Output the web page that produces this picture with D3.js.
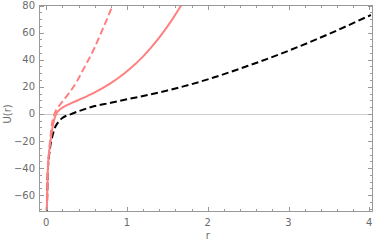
<!DOCTYPE html>
<html>
<head>
<meta charset="utf-8">
<script src="https://cdn.jsdelivr.net/npm/d3@7"></script>
<style>
  body { margin: 0; background: #fff; }
  svg { display: block; font-family: "DejaVu Sans", sans-serif; }
</style>
</head>
<body>
<svg id="chart" width="374" height="245"></svg>
<script>
// values, [r, U]
let blackDashed = [[0.008, -72], [0.02, -43], [0.035, -31], [0.05, -24], [0.08, -15.5], [0.11, -10], [0.15, -6],
    [0.2, -3], [0.3, -0.3], [0.45, 3], [0.6, 5.8], [0.8, 8.2], [1.0, 10.8], [1.3, 14.5], [1.5, 17.3],
    [1.78, 21.6], [2.0, 25.5], [2.5, 35.5], [3.0, 46.6], [3.5, 59], [4.02, 73]]
let redSolid = [[0.008, -71], [0.02, -41.5], [0.035, -29], [0.05, -21.7], [0.07, -13], [0.09, -6.5],
    [0.11, -2.2], [0.13, 0.6], [0.17, 3.2], [0.22, 5.3], [0.28, 7.1], [0.35, 9], [0.45, 11.6],
    [0.59, 15.5], [0.79, 22.3], [0.97, 30], [1.04, 33.5], [1.18, 41.2], [1.29, 48.3], [1.5, 64.4],
    [1.67, 80], [1.72, 85]]
let redDashed = [[0.008, -71], [0.02, -41], [0.035, -28], [0.05, -18.5], [0.07, -8], [0.09, -2.2],
    [0.11, 1.2], [0.14, 4.3], [0.2, 9], [0.285, 15.5], [0.38, 24], [0.47, 34], [0.6, 49], [0.68, 60],
    [0.75, 69.5], [0.82, 80], [0.85, 85]]

let xTicks = [0, 1, 2, 3, 4]
let yTicks = [-60, -40, -20, 0, 20, 40, 60, 80]

let svg = d3.select('#chart')
let margin = {left: 39.5, right: 372.5, top: 5.5, bottom: 211.5}

let x = d3.scaleLinear().domain([-0.083, 4.04]).range([margin.left, margin.right])
let y = d3.scaleLinear().domain([-72, 80]).range([margin.bottom, margin.top])

svg.append('defs').append('clipPath').attr('id', 'plot')
    .append('rect')
    .attr('x', margin.left).attr('y', margin.top)
    .attr('width', margin.right - margin.left).attr('height', margin.bottom - margin.top)

// zero axis
svg.append('line')
    .attr('x1', margin.left).attr('x2', margin.right)
    .attr('y1', Math.round(y(0)) + 0.5).attr('y2', Math.round(y(0)) + 0.5)
    .attr('stroke', '#cccccc').attr('stroke-width', 1)

let line = d3.line()
    .x(function (d) { return x(d[0]) })
    .y(function (d) { return y(d[1]) })
    .curve(d3.curveMonotoneX)

let g = svg.append('g').attr('clip-path', 'url(#plot)')
g.append('path').datum(blackDashed)
    .attr('d', line).attr('fill', 'none')
    .attr('stroke', '#000').attr('stroke-width', 2)
    .attr('stroke-dasharray', '7,3.5')
g.append('path').datum(redSolid)
    .attr('d', line).attr('fill', 'none')
    .attr('stroke', '#ff8080').attr('stroke-width', 2)
g.append('path').datum(redDashed)
    .attr('d', line).attr('fill', 'none')
    .attr('stroke', '#ff8080').attr('stroke-width', 2)
    .attr('stroke-dasharray', '7,3.5')

// frame with ticks on all four sides
let tickColor = '#999999'
let xMinor = d3.range(0, 4.01, 0.2)
let yMinor = d3.range(-70, 80.1, 5)

function tickLen(major) { return major ? 4.5 : 2.5 }

xMinor.forEach(function (v) {
    let major = Math.abs(v - Math.round(v)) < 1e-6
    let px = Math.round(x(v)) + 0.5
    svg.append('line').attr('x1', px).attr('x2', px)
        .attr('y1', margin.bottom).attr('y2', margin.bottom - tickLen(major))
        .attr('stroke', tickColor).attr('stroke-width', 1)
    svg.append('line').attr('x1', px).attr('x2', px)
        .attr('y1', margin.top).attr('y2', margin.top + tickLen(major))
        .attr('stroke', tickColor).attr('stroke-width', 1)
})
yMinor.forEach(function (v) {
    let major = v % 20 === 0
    let py = Math.round(y(v)) + 0.5
    svg.append('line').attr('x1', margin.left).attr('x2', margin.left + tickLen(major))
        .attr('y1', py).attr('y2', py)
        .attr('stroke', tickColor).attr('stroke-width', 1)
    svg.append('line').attr('x1', margin.right).attr('x2', margin.right - tickLen(major))
        .attr('y1', py).attr('y2', py)
        .attr('stroke', tickColor).attr('stroke-width', 1)
})

svg.append('rect')
    .attr('x', margin.left).attr('y', margin.top)
    .attr('width', margin.right - margin.left).attr('height', margin.bottom - margin.top)
    .attr('fill', 'none').attr('stroke', tickColor).attr('stroke-width', 1)

// tick labels
let labelColor = '#6b6b6b'
svg.selectAll('.xlab').data(xTicks).enter().append('text')
    .attr('x', function (d) { return x(d) })
    .attr('y', 225.5)
    .attr('text-anchor', 'middle')
    .attr('font-size', '10px')
    .attr('fill', labelColor)
    .text(function (d) { return d })

svg.selectAll('.ylab').data(yTicks).enter().append('text')
    .attr('x', 35)
    .attr('y', function (d) { return y(d) + 3.5 })
    .attr('text-anchor', 'end')
    .attr('font-size', '10px')
    .attr('fill', labelColor)
    .text(function (d) { return d < 0 ? '\u2212' + Math.abs(d) : d })

// axis titles
svg.append('text')
    .attr('x', x(2)).attr('y', 239)
    .attr('text-anchor', 'middle')
    .attr('font-size', '10px').attr('fill', labelColor)
    .text('r')
svg.append('text')
    .attr('transform', 'translate(11,' + y(0) + ') rotate(-90)')
    .attr('text-anchor', 'middle')
    .attr('font-size', '10px').attr('fill', labelColor)
    .text('U(r)')
</script>
</body>
</html>
